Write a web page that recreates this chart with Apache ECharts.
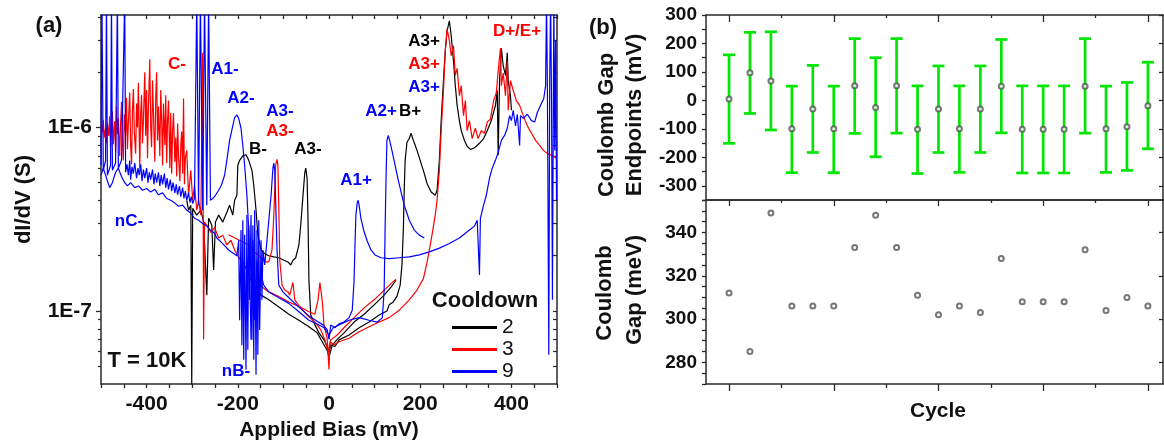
<!DOCTYPE html>
<html><head><meta charset="utf-8">
<script src="https://cdn.jsdelivr.net/npm/echarts@6/dist/echarts.min.js"></script>
<style>html,body{margin:0;padding:0;background:#fff}#c{width:1164px;height:446px}</style>
</head><body><div id="c"></div>
<script>
// ---------- Panel (a): dI/dV vs applied bias (mV, S) ----------
const c2ScanA = [[-312,4.01e-7],[-308,3.54e-7],[-303,3.77e-7],[-301,3.9e-8],[-299,3.62e-7],[-290,3.33e-7],[-281,3.54e-7],[-275,3.05e-7],[-268,1.22e-7],[-264,3.2e-7],[-257,2.93e-7],[-253,1.67e-7],[-249,3.05e-7],[-242,3.33e-7],[-233,3.05e-7],[-224,3.45e-7],[-218,3.77e-7],[-211,3.33e-7],[-207,4.01e-7],[-202,4.27e-7],[-200,6.22e-7],[-196,6.62e-7],[-189,7.0e-7],[-182,7.1e-7],[-176,6.62e-7],[-169,5.84e-7],[-165,4.84e-7],[-160,3.54e-7],[-156,2.59e-7],[-149,2.15e-7],[-141,2.05e-7],[-132,2.0e-7],[-121,1.97e-7],[-110,1.95e-7],[-99,1.89e-7],[-90,1.85e-7],[-84,1.78e-7],[-79,1.89e-7],[-73,1.95e-7],[-66,2.29e-7],[-62,2.93e-7],[-57,4.27e-7],[-53,5.7e-7],[-51,6.0e-7],[-48,5.3e-7],[-46,3.12e-7],[-44,1.47e-7],[-40,9.5e-8],[-31,8.4e-8],[-22,7.6e-8],[-11,6.96e-8],[-4,6.4e-8],[0,6.0e-8],[4,6.54e-8],[13,6.4e-8],[22,6.96e-8],[44,7.4e-8],[66,8.1e-8],[88,8.7e-8],[110,9.5e-8],[127,1.0e-7],[132,1.08e-7],[141,1.12e-7],[149,1.2e-7],[156,1.38e-7],[160,1.78e-7],[163,2.76e-7],[165,4.55e-7],[167,6.62e-7],[171,8.3e-7],[176,8.7e-7],[180,9.3e-7],[185,8.5e-7],[189,8.0e-7],[193,7.5e-7],[200,6.62e-7],[209,5.6e-7],[215,4.95e-7],[224,4.45e-7],[233,4.27e-7],[237,4.55e-7],[242,6.62e-7],[246,1.09e-6],[251,1.8e-6],[255,2.62e-6],[259,3.37e-6],[264,3.81e-6],[268,3.16e-6],[273,2.31e-6],[277,1.69e-6],[281,1.32e-6],[286,1.09e-6],[290,9.6e-7],[297,8.5e-7],[303,7.9e-7],[310,7.6e-7],[317,7.7e-7],[323,7.9e-7],[330,8.2e-7],[339,8.7e-7],[347,9.6e-7],[356,1.09e-6],[365,1.32e-6],[369,1.59e-6],[371,7.05e-7],[374,1.8e-6],[378,2.7e-6],[382,2.17e-6],[387,1.92e-6],[391,2.55e-6],[393,1.8e-6],[398,1.49e-6],[400,1.24e-6]];
const c2ScanB = [[-180,1.67e-7],[-170,1.45e-7],[-160,1.3e-7],[-149,1.22e-7],[-132,1.15e-7],[-110,1.05e-7],[-88,9.6e-8],[-66,8.9e-8],[-44,8.2e-8],[-26,7.6e-8],[-11,6.54e-8],[-4,6.1e-8],[0,5.6e-8],[7,6.5e-8],[18,7.0e-8],[33,7.6e-8],[55,8.7e-8],[77,9.6e-8],[99,1.08e-7],[121,1.22e-7],[136,1.35e-7],[147,1.47e-7]];
const c3ScanA = [[-500,1.03e-6],[-497,9.4e-7],[-495,1.1e-6],[-493,8.8e-7],[-490,9.9e-7],[-488,8.2e-7],[-486,1.05e-6],[-483,9.0e-7],[-481,1.15e-6],[-479,7.8e-7],[-477,9.5e-7],[-475,1.22e-6],[-473,8.1e-7],[-470,1.08e-6],[-468,7.3e-7],[-466,1.3e-6],[-464,9.2e-7],[-462,1.12e-6],[-459,7.0e-7],[-457,1.05e-6],[-455,1.38e-6],[-453,8.4e-7],[-451,6.6e-7],[-449,1.18e-6],[-446,9.0e-7],[-444,1.45e-6],[-442,7.6e-7],[-440,1.05e-6],[-437,1.55e-6],[-435,8.0e-7],[-433,6.3e-7],[-431,1.25e-6],[-429,1.62e-6],[-427,9.5e-7],[-424,7.2e-7],[-422,1.35e-6],[-420,1.0e-6],[-418,1.75e-6],[-415,6.0e-7],[-413,1.2e-6],[-411,1.5e-6],[-409,8.2e-7],[-407,1.1e-6],[-404,2.0e-6],[-402,9.0e-7],[-400,1.6e-6],[-398,6.8e-7],[-396,1.3e-6],[-393,2.35e-6],[-391,1.0e-6],[-389,7.8e-7],[-387,1.8e-6],[-385,1.2e-6],[-382,6.5e-7],[-380,1.45e-6],[-378,2.0e-6],[-376,8.5e-7],[-374,1.3e-6],[-371,7.0e-7],[-369,1.6e-6],[-367,1.1e-6],[-365,6.2e-7],[-363,1.35e-6],[-360,8.0e-7],[-358,1.5e-6],[-356,6.4e-7],[-354,1.1e-6],[-352,1.4e-6],[-349,6.0e-7],[-347,1.2e-6],[-345,5.6e-7],[-343,9.5e-7],[-341,1.2e-6],[-338,6.5e-7],[-336,8.8e-7],[-334,5.4e-7],[-332,1.05e-6],[-330,7.0e-7],[-327,5.1e-7],[-325,8.0e-7],[-323,9.5e-7],[-321,5.6e-7],[-319,1.44e-6],[-317,4.9e-7],[-315,6.8e-7],[-312,7.5e-7],[-308,4.27e-7],[-303,5.84e-7],[-299,4.01e-7],[-295,4.84e-7],[-290,3.54e-7],[-286,4.01e-7],[-281,3.33e-7],[-277,2.55e-6],[-275,7.0e-8],[-273,3.05e-7],[-268,2.93e-7],[-259,2.68e-7],[-251,2.85e-7],[-242,2.5e-7],[-233,2.59e-7],[-224,2.29e-7],[-215,2.43e-7],[-207,2.15e-7],[-198,1.95e-7],[-189,1.85e-7],[-180,1.67e-7],[-171,1.57e-7],[-163,1.47e-7],[-154,1.4e-7],[-143,1.33e-7],[-132,1.27e-7],[-110,1.2e-7],[-88,1.12e-7],[-66,1.06e-7],[-44,9.9e-8],[-31,9.6e-8],[-24,1.15e-7],[-20,1.43e-7],[-15,1.15e-7],[-11,8.4e-8],[-4,7.1e-8],[0,4.8e-8],[2,6.8e-8],[11,6.54e-8],[22,6.8e-8],[44,7.1e-8],[66,7.7e-8],[88,8.2e-8],[110,8.7e-8],[132,9.2e-8],[154,1.01e-7],[176,1.15e-7],[193,1.3e-7],[207,1.5e-7],[215,1.84e-7],[224,2.43e-7],[233,3.33e-7],[237,4.01e-7],[242,5.84e-7],[246,9.6e-7],[251,1.59e-6],[255,2.62e-6],[259,3.45e-6],[264,2.97e-6],[268,2.46e-6],[273,2.79e-6],[277,1.92e-6],[281,2.1e-6],[286,1.49e-6],[290,1.69e-6],[295,1.16e-6],[299,1.4e-6],[303,9.6e-7],[308,1.09e-6],[314,8.7e-7],[321,9.9e-7],[327,8.7e-7],[334,9.6e-7],[341,9.3e-7],[347,1.07e-6],[354,1.11e-6],[361,1.4e-6],[367,1.55e-6],[371,2.04e-6],[376,2.7e-6],[378,1.69e-6],[382,1.98e-6],[387,1.49e-6],[391,2.31e-6],[393,1.24e-6],[398,1.8e-6],[404,1.59e-6],[411,1.4e-6],[418,1.32e-6],[426,1.16e-6],[435,1.02e-6],[444,9.3e-7],[453,8.5e-7],[462,7.98e-7],[470,7.5e-7],[479,7.2e-7],[488,7.05e-7],[499,6.8e-7]];
const c3ScanB = [[-220,2.6e-7],[-200,2.45e-7],[-176,2.29e-7],[-163,2.1e-7],[-149,1.95e-7],[-141,1.85e-7],[-132,1.85e-7],[-125,2.15e-7],[-121,3.33e-7],[-117,6.22e-7],[-114,6.7e-7],[-112,6.22e-7],[-110,3.54e-7],[-108,1.89e-7],[-103,1.38e-7],[-97,1.3e-7],[-90,1.27e-7],[-86,1.22e-7],[-79,1.43e-7],[-75,1.15e-7],[-66,1.07e-7],[-48,9.5e-8],[-31,8.7e-8],[-18,7.9e-8],[-9,6.96e-8],[-2,6.0e-8],[4,6.96e-8],[18,7.4e-8],[33,8.1e-8],[55,9.2e-8],[77,1.04e-7],[99,1.15e-7],[121,1.3e-7],[136,1.41e-7],[147,1.49e-7]];
const c9ScanA = [[-500,6.22e-7],[-498,5e-6],[-495,5.84e-7],[-490,6.62e-7],[-488,5e-6],[-486,5.49e-7],[-479,6.22e-7],[-477,5e-6],[-475,5.84e-7],[-468,6.4e-7],[-464,5e-6],[-462,6.0e-7],[-455,6.62e-7],[-448,5e-6],[-446,5.7e-7],[-443,6.3e-7],[-440,5.5e-7],[-437,6.6e-7],[-435,5.2e-7],[-432,6.1e-7],[-429,5.6e-7],[-426,6.4e-7],[-422,5.3e-7],[-419,6.0e-7],[-416,5.5e-7],[-413,6.3e-7],[-410,5.1e-7],[-407,5.9e-7],[-404,5.3e-7],[-400,6.0e-7],[-397,5.0e-7],[-394,5.7e-7],[-391,5.2e-7],[-387,5.9e-7],[-384,4.9e-7],[-381,5.6e-7],[-378,5.0e-7],[-374,5.7e-7],[-371,4.8e-7],[-368,5.5e-7],[-365,4.9e-7],[-361,5.6e-7],[-358,4.7e-7],[-355,5.3e-7],[-352,4.6e-7],[-348,5.2e-7],[-345,4.5e-7],[-342,5.0e-7],[-338,4.4e-7],[-335,4.9e-7],[-332,4.3e-7],[-328,4.8e-7],[-325,4.2e-7],[-321,4.7e-7],[-318,4.1e-7],[-315,4.5e-7],[-312,4.0e-7],[-308,4.4e-7],[-305,3.9e-7],[-302,4.2e-7],[-299,3.85e-7],[-295,4.1e-7],[-292,4.0e-7],[-290,5e-6],[-286,3.77e-7],[-282,5e-6],[-277,3.54e-7],[-273,5e-6],[-268,3.77e-7],[-264,5e-6],[-260,4.01e-7],[-255,4.1e-7],[-249,4.27e-7],[-242,4.55e-7],[-236,4.84e-7],[-229,5.49e-7],[-224,6.62e-7],[-218,8.5e-7],[-211,1.02e-6],[-207,1.13e-6],[-202,1.17e-6],[-198,1.12e-6],[-193,9.9e-7],[-189,7.98e-7],[-185,6.22e-7],[-180,4.27e-7],[-176,2.76e-7],[-174,1.15e-7],[-171,3.33e-7],[-169,6.96e-8],[-167,2.93e-7],[-165,5.42e-8],[-163,3.54e-7],[-160,4.49e-8],[-158,2.76e-7],[-156,5.77e-8],[-154,3.12e-7],[-152,7.88e-8],[-149,2.43e-7],[-147,1.15e-7],[-145,2.15e-7],[-141,1.78e-7],[-136,2.43e-7],[-132,3.12e-7],[-127,4.27e-7],[-123,6.0e-7],[-121,6.4e-7],[-119,5.84e-7],[-117,4.01e-7],[-114,2.15e-7],[-110,1.38e-7],[-101,1.27e-7],[-88,1.18e-7],[-66,1.05e-7],[-44,9.4e-8],[-26,8.8e-8],[-13,8.4e-8],[-4,7.9e-8],[0,7.0e-8],[4,8.4e-8],[13,8.1e-8],[22,8.5e-8],[33,8.7e-8],[44,9.2e-8],[51,1.01e-7],[55,1.47e-7],[57,2.29e-7],[59,3.33e-7],[62,3.9e-7],[64,4.01e-7],[66,3.77e-7],[70,3.2e-7],[77,2.7e-7],[84,2.4e-7],[92,2.15e-7],[101,2.02e-7],[114,1.95e-7],[132,1.93e-7],[154,1.95e-7],[176,1.97e-7],[198,2.02e-7],[220,2.1e-7],[242,2.2e-7],[264,2.33e-7],[286,2.5e-7],[308,2.76e-7],[319,2.9e-7],[325,3.12e-7],[330,1.57e-7],[332,3.2e-7],[339,3.77e-7],[345,4.27e-7],[352,5.3e-7],[358,6.0e-7],[365,6.62e-7],[371,7.3e-7],[378,8.5e-7],[385,9.05e-7],[391,9.9e-7],[396,1.16e-6],[400,1.09e-6],[404,1.24e-6],[409,1.02e-6],[413,1.18e-6],[418,7.98e-7],[420,1.16e-6],[426,1.12e-6],[435,1.18e-6],[444,1.09e-6],[451,1.07e-6],[457,1.21e-6],[464,1.32e-6],[471,1.44e-6],[475,1.69e-6],[477,5e-6],[479,1.59e-6],[482,5.77e-8],[484,1.8e-6],[486,5e-6],[488,1.4e-6],[490,1.15e-7],[493,5e-6],[495,7.5e-7],[497,2.97e-6],[499,4.01e-7]];
const c9ScanB = [[-500,5.49e-7],[-495,6.0e-7],[-488,5.3e-7],[-481,4.7e-7],[-475,5.0e-7],[-468,5.7e-7],[-462,6.0e-7],[-455,5.4e-7],[-448,5.0e-7],[-442,4.8e-7],[-435,5.0e-7],[-426,4.7e-7],[-418,4.8e-7],[-409,4.55e-7],[-400,4.65e-7],[-391,4.45e-7],[-382,4.6e-7],[-374,4.3e-7],[-365,4.4e-7],[-356,4.1e-7],[-347,4.01e-7],[-338,3.87e-7],[-330,3.72e-7],[-321,3.77e-7],[-312,3.54e-7],[-303,3.42e-7],[-295,3.2e-7],[-286,3.12e-7],[-277,3.0e-7],[-268,2.9e-7],[-260,2.76e-7],[-251,2.65e-7],[-246,2.5e-7],[-237,2.38e-7],[-229,2.27e-7],[-220,2.15e-7],[-211,2.07e-7],[-202,2.0e-7],[-198,2.43e-7],[-196,8.9e-8],[-193,2.76e-7],[-191,6.5e-8],[-189,3.12e-7],[-187,5.42e-8],[-185,2.6e-7],[-182,4.78e-8],[-180,3.33e-7],[-178,6.14e-8],[-176,2.93e-7],[-171,6.96e-8],[-167,2.43e-7],[-163,8.9e-8],[-158,1.89e-7],[-154,1.3e-7],[-149,1.57e-7],[-143,1.38e-7],[-132,1.27e-7],[-110,1.18e-7],[-88,1.1e-7],[-66,9.9e-8],[-44,8.9e-8],[-26,8.5e-8],[-11,8.1e-8],[0,7.4e-8],[9,8.1e-8],[22,8.4e-8],[44,8.9e-8],[66,9.2e-8],[88,8.9e-8],[106,8.7e-8],[117,9.2e-8],[121,1.3e-7],[123,2.76e-7],[125,5.15e-7],[127,8.5e-7],[130,9.05e-7],[134,8.3e-7],[138,7.5e-7],[145,6.22e-7],[152,5.15e-7],[158,4.45e-7],[165,3.77e-7],[176,3.12e-7],[187,2.76e-7],[198,2.59e-7],[209,2.5e-7]];
const biasTickLabels = [-400, -200, 0, 200, 400];
const logMajorTicks = [1e-7, 1e-6];
const logMinorTicks = [5e-8,6e-8,7e-8,8e-8,9e-8,2e-7,3e-7,4e-7,5e-7,6e-7,7e-7,8e-7,9e-7,2e-6,3e-6,4e-6];

// ---------- Panel (b): Coulomb gap per cycle ----------
const cycles      = [1,2,3,4,5,6,7,8,9,10,11,12,13,14,15,16,17,18,19,20,21];
const gapCenter   = [5,97,68,-100,-30,-100,51,-25,51,-101,-30,-100,-30,50,-101,-101,-101,50,-100,-93,-19];
const gapUpper    = [160,239,241,50,123,50,217,150,217,51,121,51,121,214,51,51,51,217,50,63,134];
const gapLower    = [-151,-46,-104,-254,-183,-254,-116,-198,-115,-257,-183,-253,-183,-114,-255,-255,-255,-115,-253,-246,-170];
const coulombGap  = [312,285,349,306,306,306,333,348,333,311,302,306,303,328,308,308,308,332,304,310,306];
const majorCycleTicks = [1,6,11,16,21];
const minorCycleTicks = [3.5,8.5,13.5,18.5];
const endpointRightTicks = [-300,-200,-100,0,100,200,300];
const gapRightTicks = [280,300,320,340];

// ---------- styling ----------
const FONT = 'Arial, "Liberation Sans", Helvetica, sans-serif';
const AX = '#2a2a2a';
const BLACK = '#000000', RED = '#ff0000', BLUE = '#0000ff', GREEN = '#00e600';
const lineAx = (show) => ({show: show, onZero: false, lineStyle: {color: AX, width: 1.5}});

const chart = echarts.init(document.getElementById('c'), null, {renderer: 'canvas'});

function cycleAxis(grid, pos, ticks, len, inside, showLine, extra) {
  return Object.assign({
    gridIndex: grid, type: 'value', position: pos, min: -0.1, max: 21.72,
    axisLine: lineAx(showLine),
    axisTick: {show: ticks.length > 0, customValues: ticks, length: len, inside: inside, lineStyle: {color: AX, width: 1.3}},
    axisLabel: {show: false}, splitLine: {show: false}
  }, extra || {});
}

const scanSeries = [
  ['2', BLACK, c2ScanA], ['2', BLACK, c2ScanB],
  ['3', RED, c3ScanA], ['3', RED, c3ScanB],
  ['9', BLUE, c9ScanA], ['9', BLUE, c9ScanB]
].map(([name, color, data]) => ({
  type: 'line', name: name, xAxisIndex: 0, yAxisIndex: 0, data: data,
  showSymbol: false, symbol: 'none', color: color,
  lineStyle: {color: color, width: 1.2}, silent: true, clip: true
}));

const errRows = cycles.map((c, i) => [c, gapLower[i], gapUpper[i]]);
const centerRows = cycles.map((c, i) => [c, gapCenter[i]]);
const gapRows = cycles.map((c, i) => [c, coulombGap[i]]);

const txt = (text, x, y, color, size, weight, rot) => ({
  type: 'text', x: x, y: y, rotation: rot || 0, silent: true,
  style: {text: text, fill: color, font: (weight || 'bold') + ' ' + size + 'px ' + FONT, align: 'center', verticalAlign: 'middle'}
});

const option = {
  animation: false,
  backgroundColor: '#ffffff',
  grid: [
    {left: 101, top: 15, width: 456, height: 369, outerBoundsMode: 'none'},
    {left: 706, top: 15, width: 457, height: 185, outerBoundsMode: 'none'},
    {left: 706, top: 200, width: 457, height: 184, outerBoundsMode: 'none'}
  ],
  xAxis: [
    {gridIndex: 0, type: 'value', position: 'bottom', min: -500, max: 500, interval: 50,
     axisLine: lineAx(true),
     axisTick: {length: 4, lineStyle: {color: AX, width: 1.3}},
     axisLabel: {margin: 10, color: '#111', fontFamily: FONT, fontSize: 21, fontWeight: 'bold',
                 formatter: v => biasTickLabels.indexOf(v) >= 0 ? String(v) : ''},
     splitLine: {show: false},
     name: 'Applied Bias (mV)', nameLocation: 'middle', nameGap: 36,
     nameTextStyle: {color: '#111', fontFamily: FONT, fontSize: 21, fontWeight: 'bold'}},
    {gridIndex: 0, type: 'value', position: 'top', min: -500, max: 500, interval: 50,
     axisLine: lineAx(true), axisTick: {length: 4, inside: true, lineStyle: {color: AX, width: 1.3}},
     axisLabel: {show: false}, splitLine: {show: false}},
    cycleAxis(1, 'bottom', majorCycleTicks, 6, false, true),
    cycleAxis(1, 'bottom', minorCycleTicks, 3, false, false),
    cycleAxis(1, 'top', majorCycleTicks, 7, true, true),
    cycleAxis(1, 'top', minorCycleTicks, 3, true, false),
    cycleAxis(2, 'bottom', majorCycleTicks, 7, false, true, {
      name: 'Cycle', nameLocation: 'middle', nameGap: 17,
      nameTextStyle: {color: '#111', fontFamily: FONT, fontSize: 21, fontWeight: 'bold', padding: [0, 0, 0, 7]}}),
    cycleAxis(2, 'bottom', minorCycleTicks, 4, false, false),
    cycleAxis(2, 'top', [], 0, true, true)
  ],
  yAxis: [
    {gridIndex: 0, type: 'log', position: 'left', min: 4.0e-8, max: 4.1e-6,
     axisLine: lineAx(true),
     axisTick: {customValues: logMajorTicks, length: 5, lineStyle: {color: AX, width: 1.3}},
     axisLabel: {customValues: logMajorTicks, margin: 9, color: '#111', fontFamily: FONT, fontSize: 21, fontWeight: 'bold',
                 formatter: v => '1E' + Math.round(Math.log10(v))},
     splitLine: {show: false},
     name: 'dI/dV (S)', nameLocation: 'middle', nameGap: 66, nameRotate: 90,
     nameTextStyle: {color: '#111', fontFamily: FONT, fontSize: 22, fontWeight: 'bold'}},
    {gridIndex: 0, type: 'log', position: 'left', min: 4.0e-8, max: 4.1e-6,
     axisLine: lineAx(false),
     axisTick: {customValues: logMinorTicks, length: 3, lineStyle: {color: AX, width: 1.2}},
     axisLabel: {show: false}, splitLine: {show: false}},
    {gridIndex: 0, type: 'log', position: 'right', min: 4.0e-8, max: 4.1e-6,
     axisLine: lineAx(true),
     axisTick: {customValues: logMinorTicks.concat(logMajorTicks), length: 4, inside: true, lineStyle: {color: AX, width: 1.2}},
     axisLabel: {show: false}, splitLine: {show: false}},
    {gridIndex: 1, type: 'value', position: 'left', min: -350, max: 300, interval: 50,
     axisLine: lineAx(true),
     axisTick: {length: 4, lineStyle: {color: AX, width: 1.3}},
     axisLabel: {margin: 9, color: '#111', fontFamily: FONT, fontSize: 19, fontWeight: 'bold',
                 formatter: v => (v % 100 === 0) ? String(v) : ''},
     splitLine: {show: false}},
    {gridIndex: 1, type: 'value', position: 'right', min: -350, max: 300,
     axisLine: lineAx(true),
     axisTick: {customValues: endpointRightTicks, length: 4, inside: true, lineStyle: {color: AX, width: 1.3}},
     axisLabel: {show: false}, splitLine: {show: false}},
    {gridIndex: 2, type: 'value', position: 'left', min: 270, max: 355, interval: 5,
     axisLine: lineAx(true),
     axisTick: {length: 4, lineStyle: {color: AX, width: 1.3}},
     axisLabel: {margin: 9, color: '#111', fontFamily: FONT, fontSize: 19, fontWeight: 'bold',
                 formatter: v => (v % 20 === 0) ? String(v) : ''},
     splitLine: {show: false}},
    {gridIndex: 2, type: 'value', position: 'right', min: 270, max: 355,
     axisLine: lineAx(true),
     axisTick: {customValues: gapRightTicks, length: 4, inside: true, lineStyle: {color: AX, width: 1.3}},
     axisLabel: {show: false}, splitLine: {show: false}}
  ],
  legend: {
    data: ['2', '3', '9'], orient: 'vertical', left: 447, top: 312,
    icon: 'rect', itemWidth: 45, itemHeight: 3, itemGap: 1, selectedMode: false,
    textStyle: {color: '#111', fontFamily: FONT, fontSize: 21, padding: [0, 0, 0, 0]}
  },
  series: scanSeries.concat([
    {type: 'custom', name: 'endpoints', xAxisIndex: 2, yAxisIndex: 3, data: errRows, silent: true,
     encode: {x: 0, y: [1, 2]},
     renderItem: function (params, api) {
       const x = api.value(0);
       const top = api.coord([x, api.value(2)]);
       const bot = api.coord([x, api.value(1)]);
       const hw = 6;
       const st = {stroke: GREEN, lineWidth: 2.7};
       return {type: 'group', children: [
         {type: 'line', shape: {x1: top[0], y1: top[1], x2: bot[0], y2: bot[1]}, style: st},
         {type: 'line', shape: {x1: top[0] - hw, y1: top[1], x2: top[0] + hw, y2: top[1]}, style: st},
         {type: 'line', shape: {x1: bot[0] - hw, y1: bot[1], x2: bot[0] + hw, y2: bot[1]}, style: st}
       ]};
     }},
    {type: 'scatter', name: 'center', xAxisIndex: 2, yAxisIndex: 3, data: centerRows, silent: true,
     symbol: 'emptyCircle', symbolSize: 5, itemStyle: {color: '#555', borderColor: '#555', borderWidth: 1}, z: 5},
    {type: 'scatter', name: 'gap', xAxisIndex: 6, yAxisIndex: 5, data: gapRows, silent: true,
     symbol: 'emptyCircle', symbolSize: 5, itemStyle: {color: '#555', borderColor: '#555', borderWidth: 1}}
  ]),
  graphic: [
    txt('(a)', 49, 26, '#111', 22),
    txt('(b)', 603, 28, '#111', 22),
    txt('C-', 177, 64, RED, 17),
    txt('A1-', 225, 69, BLUE, 17),
    txt('A2-', 241, 98, BLUE, 17),
    txt('A3-', 280, 111, BLUE, 17),
    txt('A3-', 280, 131, RED, 17),
    txt('B-', 258, 149, BLACK, 17),
    txt('A3-', 308, 149, BLACK, 17),
    txt('A1+', 356, 180, BLUE, 17),
    txt('A2+', 381, 111, BLUE, 17),
    txt('B+', 410, 111, BLACK, 17),
    txt('A3+', 424, 41, BLACK, 17),
    txt('A3+', 424, 64, RED, 17),
    txt('A3+', 424, 87, BLUE, 17),
    txt('D+/E+', 517, 31, RED, 17),
    txt('nC-', 129, 221, BLUE, 17),
    txt('nB-', 236, 371, BLUE, 17),
    txt('T = 10K', 147, 361, '#111', 22),
    txt('Cooldown', 485, 301, '#111', 22),
    txt('Coulomb Gap', 607, 125, '#111', 22, 'bold', Math.PI / 2),
    txt('Endpoints (mV)', 635, 115, '#111', 22, 'bold', Math.PI / 2),
    txt('Coulomb', 605, 293, '#111', 22, 'bold', Math.PI / 2),
    txt('Gap (meV)', 635, 290, '#111', 22, 'bold', Math.PI / 2)
  ]
};
chart.setOption(option);
</script>
</body></html>
